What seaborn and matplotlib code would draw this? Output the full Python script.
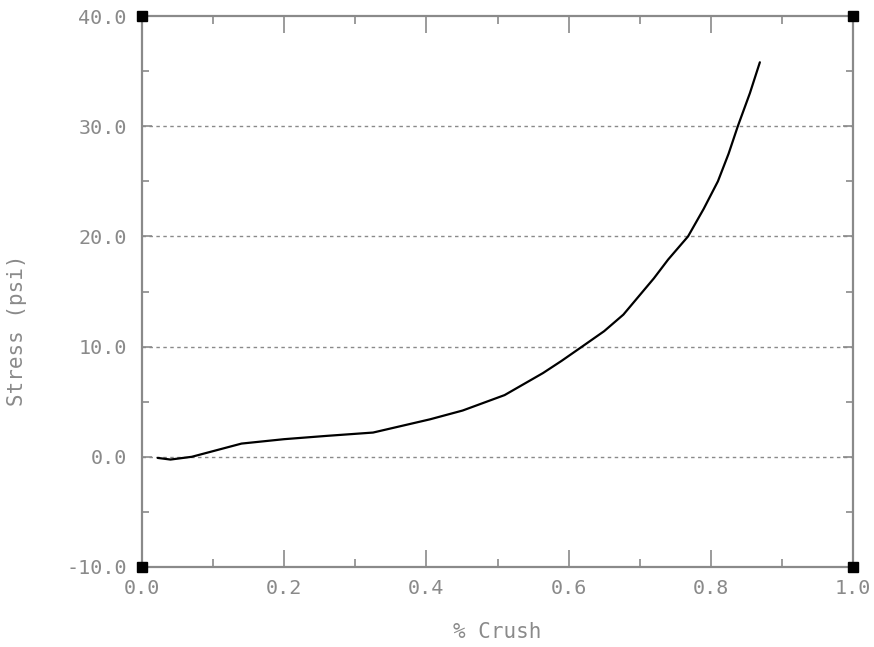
import matplotlib
matplotlib.use("Agg")
import matplotlib.pyplot as plt
import seaborn as sns
import numpy as np
import pandas as pd
from matplotlib.ticker import MultipleLocator, FormatStrFormatter

crush = [0.022, 0.04, 0.07, 0.14, 0.2, 0.26, 0.325, 0.405, 0.451, 0.51, 0.564, 0.59, 0.619, 0.65, 0.677, 0.72, 0.74, 0.768, 0.79, 0.81, 0.825, 0.838, 0.855, 0.869]
stress = [-0.1, -0.25, 0.0, 1.2, 1.6, 1.9, 2.2, 3.4, 4.2, 5.6, 7.6, 8.7, 10.0, 11.4, 12.9, 16.2, 17.9, 20.0, 22.5, 25.0, 27.5, 30.0, 33.0, 35.8]
x_ticks = [0.0, 0.2, 0.4, 0.6, 0.8, 1.0]
y_ticks = [-10.0, 0.0, 10.0, 20.0, 30.0, 40.0]
x_label = "% Crush"
y_label = "Stress (psi)"

sns.set_style("white")
plt.rcParams['font.family'] = ['DejaVu Sans Mono', 'DejaVu Sans']

gray = "#8a8a8a"
fig = plt.figure(figsize=(8.74, 6.47), dpi=100)
ax = fig.add_axes([142/874, 1-567/647, (853-142)/874, (567-16)/647])

df = pd.DataFrame({"crush": crush, "stress": stress})
sns.lineplot(data=df, x="crush", y="stress", sort=False, estimator=None,
             color="black", linewidth=1.6, ax=ax)

ax.set_xlim(0, 1)
ax.set_ylim(-10, 40)
ax.set_xticks(x_ticks)
ax.set_yticks(y_ticks)
ax.xaxis.set_major_formatter(FormatStrFormatter('%.1f'))
ax.yaxis.set_major_formatter(FormatStrFormatter('%.1f'))
ax.xaxis.set_minor_locator(MultipleLocator(0.1))
ax.yaxis.set_minor_locator(MultipleLocator(5))

for yv in y_ticks[1:-1]:
    ax.axhline(yv, color=gray, linestyle=(0, (2.5, 2.5)), linewidth=1.0, zorder=0)

for s in ax.spines.values():
    s.set_color(gray)
    s.set_linewidth(1.6)

ax.tick_params(axis='x', which='major', direction='in', length=12, width=1.2,
               color=gray, labelcolor=gray, labelsize=14.5, top=True, bottom=True, pad=9)
ax.tick_params(axis='x', which='minor', direction='in', length=6, width=1.2,
               color=gray, top=True, bottom=True)
ax.tick_params(axis='y', which='major', direction='in', length=7, width=1.2,
               color=gray, labelcolor=gray, labelsize=14.5, left=True, right=True, pad=11)
ax.tick_params(axis='y', which='minor', direction='in', length=5, width=1.2,
               color=gray, left=True, right=True)

ax.set_xlabel(x_label, color=gray, fontsize=15)
ax.set_ylabel(y_label, color=gray, fontsize=15)
ax.xaxis.label.set_va('center')
ax.xaxis.set_label_coords(0.5, (567 - 632) / 551)
ax.yaxis.label.set_va('center')
ax.yaxis.label.set_ha('center')
ax.yaxis.set_label_coords((17 - 142) / 711, 0.5 - (330 - 291.5) / 551 * 0 + (567 - 330) / 551 - 0.5)

for cx in (0, 1):
    for cy in (-10, 40):
        ax.plot([cx], [cy], marker='s', color='black', markersize=7, clip_on=False, zorder=5)

fig.savefig("out.png", dpi=100)
